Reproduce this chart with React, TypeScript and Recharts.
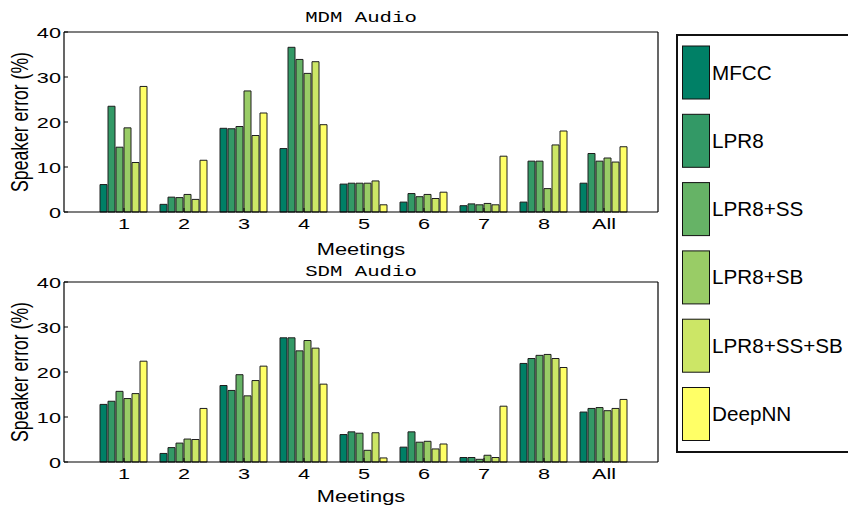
import React from 'react';
import { BarChart, Bar, XAxis, YAxis } from 'recharts';

const meetings = ['1', '2', '3', '4', '5', '6', '7', '8', 'All'];
const systems = ['MFCC', 'LPR8', 'LPR8+SS', 'LPR8+SB', 'LPR8+SS+SB', 'DeepNN'];
const colors = ['#008066', '#339966', '#66b366', '#99cc66', '#cce666', '#ffff66'];
const yTicks = [0, 10, 20, 30, 40];

// MDM audio, speaker error (%)
const mdmMfcc = [6.1, 1.7, 18.6, 14.1, 6.2, 2.2, 1.4, 2.2, 6.4];
const mdmLpr8 = [23.5, 3.3, 18.5, 36.6, 6.4, 4.1, 1.8, 11.3, 13.0];
const mdmSs = [14.4, 3.2, 19.0, 33.9, 6.4, 3.4, 1.6, 11.3, 11.3];
const mdmSb = [18.7, 3.9, 26.9, 30.8, 6.4, 3.9, 1.9, 5.2, 12.0];
const mdmSsSb = [11.0, 2.8, 17.0, 33.4, 6.9, 3.0, 1.6, 14.9, 11.1];
const mdmDnn = [27.9, 11.5, 22.0, 19.4, 1.6, 4.4, 12.4, 18.0, 14.5];

// SDM audio, speaker error (%)
const sdmMfcc = [12.8, 1.9, 17.0, 27.6, 6.1, 3.3, 1.0, 21.9, 11.1];
const sdmLpr8 = [13.5, 3.2, 15.9, 27.6, 6.7, 6.7, 1.0, 23.0, 11.9];
const sdmSs = [15.7, 4.2, 19.4, 24.7, 6.4, 4.4, 0.6, 23.7, 12.1];
const sdmSb = [14.1, 5.1, 14.7, 27.0, 2.6, 4.6, 1.5, 23.9, 11.4];
const sdmSsSb = [15.2, 5.0, 18.1, 25.3, 6.5, 2.9, 1.0, 23.0, 11.9];
const sdmDnn = [22.4, 11.9, 21.3, 17.3, 0.9, 4.0, 12.4, 21.0, 13.9];

const makeRows = (series: number[][]) =>
  meetings.map((name, i) => {
    const row: Record<string, any> = { name };
    systems.forEach((s, j) => (row[s] = series[j][i]));
    return row;
  });

const mdmRows = makeRows([mdmMfcc, mdmLpr8, mdmSs, mdmSb, mdmSsSb, mdmDnn]);
const sdmRows = makeRows([sdmMfcc, sdmLpr8, sdmSs, sdmSb, sdmSsSb, sdmDnn]);

const SANS = '"Liberation Sans", Arial, Helvetica, sans-serif';
const MONO = '"Liberation Mono", "Courier New", monospace';

// text stretched horizontally, the figure is wider than it was drawn
const SText = ({ x, y, sx = 1, anchor = 'middle', size, family = SANS, rotate = 0, dy, children }: any) => (
  <g transform={`translate(${x},${y}) scale(${sx},1)${rotate ? ` rotate(${rotate})` : ''}`}>
    <text x={0} y={0} dy={dy} textAnchor={anchor} fontSize={size} fontFamily={family} fill="#000">
      {children}
    </text>
  </g>
);

const XTick = (props: any) => (
  <SText x={props.x} y={props.y + 17} sx={1.4} size={15.5}>
    {props.payload.value}
  </SText>
);

const YTick = (props: any) => (
  <SText x={props.x} y={props.y} sx={1.4} size={15.5} anchor="end" dy="0.36em">
    {props.payload.value}
  </SText>
);

const PAD = { left: 30, right: 24 };

function Panel({ title, rows, top, titleGap, labelGap }: any) {
  return (
    <div style={{ position: 'absolute', left: 0, top, width: 670, height: 262 }}>
      <BarChart
        width={670}
        height={262}
        data={rows}
        margin={{ top: 0, right: 0, bottom: 0, left: 0 }}
        barCategoryGap={6}
        barGap={1}
      >
        <XAxis
          xAxisId="top"
          orientation="top"
          dataKey="name"
          height={32}
          padding={PAD}
          interval={0}
          tick={false}
          tickSize={-4}
          axisLine={{ stroke: '#000', strokeWidth: 1.2 }}
          tickLine={{ stroke: '#000' }}
          label={{
            content: (p: any) => (
              <SText
                x={p.viewBox.x + p.viewBox.width / 2}
                y={p.viewBox.y + p.viewBox.height - titleGap}
                sx={1.38}
                size={15}
                family={MONO}
              >
                {title}
              </SText>
            ),
          }}
        />
        <XAxis
          dataKey="name"
          height={50}
          padding={PAD}
          interval={0}
          tickSize={-4}
          tickMargin={4}
          tick={<XTick />}
          axisLine={{ stroke: '#000', strokeWidth: 1.2 }}
          tickLine={{ stroke: '#000' }}
          label={{
            content: (p: any) => (
              <SText
                x={p.viewBox.x + p.viewBox.width / 2}
                y={p.viewBox.y + labelGap}
                sx={1.34}
                size={16.3}
              >
                Meetings
              </SText>
            ),
          }}
        />
        <YAxis
          width={64}
          domain={[0, 40]}
          ticks={yTicks}
          interval={0}
          tickSize={-4}
          tickMargin={7}
          tick={<YTick />}
          axisLine={{ stroke: '#000', strokeWidth: 1.2 }}
          tickLine={{ stroke: '#000' }}
          label={{
            content: (p: any) => (
              <SText x={28} y={p.viewBox.y + p.viewBox.height / 2} sx={1.37} size={17.6} rotate={-90}>
                Speaker error (%)
              </SText>
            ),
          }}
        />
        <YAxis
          yAxisId="right"
          orientation="right"
          width={12}
          domain={[0, 40]}
          ticks={yTicks}
          interval={0}
          tick={false}
          tickSize={-4}
          axisLine={{ stroke: '#000', strokeWidth: 1.2 }}
          tickLine={{ stroke: '#000' }}
        />
        {systems.map((s, i) => (
          <Bar key={s} dataKey={s} fill={colors[i]} stroke="#1e1e1e" strokeWidth={1} isAnimationActive={false} />
        ))}
      </BarChart>
    </div>
  );
}

function LegendBox() {
  return (
    <svg width={848} height={506} style={{ position: 'absolute', left: 0, top: 0 }}>
      <rect x={677} y={35} width={240} height={417} fill="#fff" stroke="#111" strokeWidth={2} />
      {systems.map((s, i) => {
        const y0 = 46 + i * 68.3;
        return (
          <g key={s}>
            <rect x={682.5} y={y0} width={27} height={53} fill={colors[i]} stroke="#111" strokeWidth={1} />
            <SText x={712} y={y0 + 26.5} sx={1.06} size={19.5} anchor="start" dy="0.36em">
              {s}
            </SText>
          </g>
        );
      })}
    </svg>
  );
}

export default function App() {
  return (
    <div
      style={{
        position: 'absolute',
        left: 0,
        top: 0,
        width: 848,
        height: 506,
        overflow: 'hidden',
        background: '#fff',
      }}
    >
      <Panel title="MDM Audio" rows={mdmRows} top={0} titleGap={10} labelGap={43} />
      <Panel title="SDM Audio" rows={sdmRows} top={250} titleGap={6} labelGap={40} />
      <LegendBox />
    </div>
  );
}
